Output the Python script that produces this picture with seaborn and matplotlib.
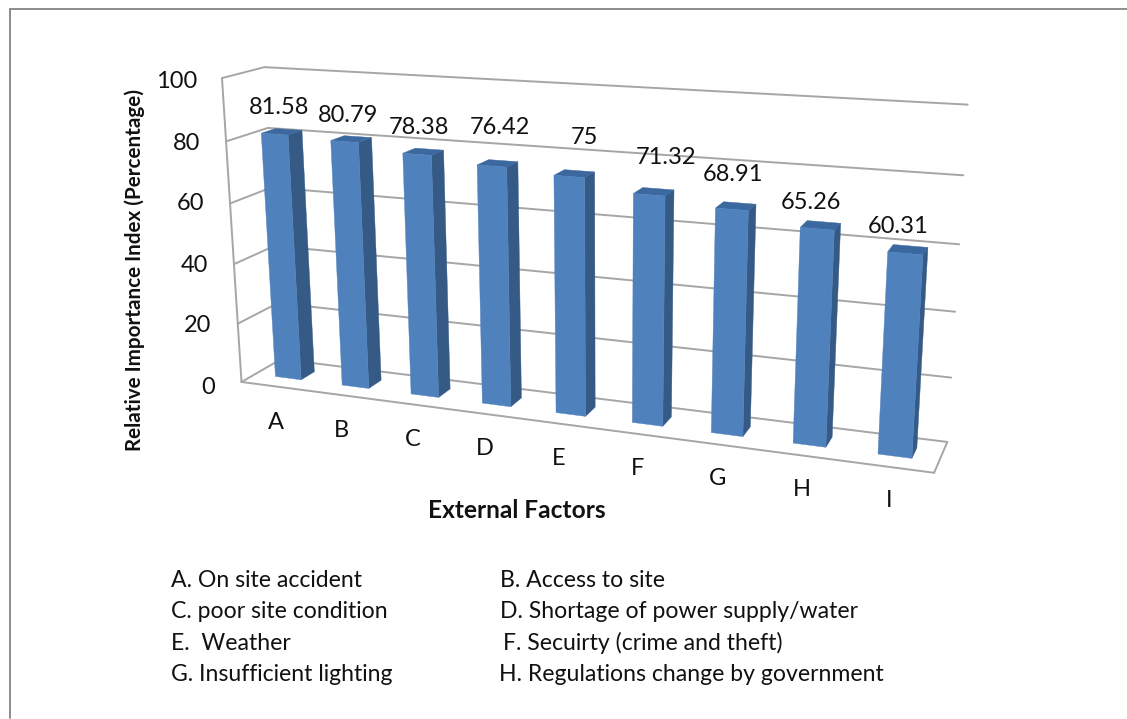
import numpy as np
import pandas as pd
import matplotlib
matplotlib.use("Agg")
import matplotlib.pyplot as plt
from matplotlib.lines import Line2D
from matplotlib.patches import Polygon
from matplotlib.transforms import Transform, IdentityTransform
import seaborn as sns

# ---- data ----
factors = ["A", "B", "C", "D", "E", "F", "G", "H", "I"]
rii_values = [81.58, 80.79, 78.38, 76.42, 75, 71.32, 68.91, 65.26, 60.31]
y_ticks = [0, 20, 40, 60, 80, 100]
key_left = ["A. On site accident", "C. poor site condition", "E.  Weather", "G. Insufficient lighting"]
key_right = ["B. Access to site", "D. Shortage of power supply/water", "F. Secuirty (crime and theft)",
             "H. Regulations change by government"]

W, H = 1127, 719
FONT = "Lato"
BAR_W = 0.39
Z_FRONT, Z_BACK = -1.0, 1.9
X_LO, X_HI = -0.5, 8.5

sns.set_theme(style="white")
plt.rcParams["font.family"] = [FONT, "DejaVu Sans"]

# ---- projective camera calibrated from the picture: (x, y, depth) -> image pixels ----
calib = [
    (0, 0, 0, 286, 379), (0, 81.58, 0, 274.5, 134), (8, 0, 0, 894.5, 457), (8, 60.31, 0, 905.5, 253),
    (4, 0, 0, 571, 416), (4, 75, 0, 569, 177),
    (BAR_W / 2, 0, 1, 315, 370), (BAR_W / 2, 81.58, 1, 303, 132),
    (8 + BAR_W / 2, 0, 1, 918, 447), (8 + BAR_W / 2, 60.31, 1, 927, 248),
    (X_LO, 0, Z_FRONT, 241.7, 381.7), (X_LO, 100, Z_FRONT, 223, 77),
    (X_LO, 0, Z_BACK, 282, 359), (X_LO, 100, Z_BACK, 263, 67),
    (X_HI, 0, Z_BACK, 947, 442), (X_HI, 100, Z_BACK, 968, 104),
    (X_HI, 0, Z_FRONT, 934, 472),
]
rows = []
for x, y, z, u, v in calib:
    s = np.array([x, y, z, 1.0])
    rows.append(np.r_[s, 0 * s, -u * s])
    rows.append(np.r_[0 * s, s, -v * s])
CAM = np.linalg.svd(np.array(rows, float))[2][-1].reshape(3, 4)


class Perspective(Transform):
    """Maps (x, value) at a fixed depth to figure pixels."""
    input_dims = output_dims = 2
    is_separable = False
    has_inverse = False

    def __init__(self, plane_depth):
        super().__init__()
        self.plane_depth = plane_depth

    def transform_non_affine(self, values):
        values = np.asarray(values, float)
        s = np.c_[values, np.full(len(values), self.plane_depth), np.ones(len(values))]
        q = s @ CAM.T
        return np.c_[q[:, 0] / q[:, 2], H - q[:, 1] / q[:, 2]]

    def transform_path_non_affine(self, path):
        return type(path)(self.transform_non_affine(path.vertices), path.codes)


front = Perspective(0.0)
back = Perspective(1.0)
floor_front = Perspective(Z_FRONT)
wall = Perspective(Z_BACK)
pixels = IdentityTransform()

df = pd.DataFrame({"factor": factors, "rii": rii_values})

fig = plt.figure(figsize=(W / 100, H / 100), dpi=100, facecolor="white")
ax = fig.add_axes([223 / W, 1 - 385 / H, (968 - 223) / W, (385 - 80) / H])
ax.patch.set_alpha(0)
BAR = "#4F81BD"
sns.barplot(data=df, x="factor", y="rii", color=BAR, saturation=1, width=BAR_W, ax=ax, zorder=5,
            edgecolor=BAR, linewidth=0.3)
ax.set_xlim(X_LO, X_HI)
ax.set_ylim(0, 100)
sns.despine(ax=ax, left=True, bottom=True)
ax.grid(False)

# ---- box: side wall, back wall and floor ----
GRID = "#A6A6A6"
line_kw = dict(color=GRID, lw=1.4, zorder=1, clip_on=False)


def depth_line(x, yt):
    a = floor_front.transform_non_affine([[x, yt]])[0]
    b = wall.transform_non_affine([[x, yt]])[0]
    ax.add_line(Line2D([a[0], b[0]], [a[1], b[1]], transform=pixels, **line_kw))


for yt in y_ticks:
    ax.add_line(Line2D([X_LO, X_HI], [yt, yt], transform=wall, **line_kw))
    depth_line(X_LO, yt)
ax.add_line(Line2D([X_LO, X_HI], [0, 0], transform=floor_front, **line_kw))
depth_line(X_HI, 0)
ax.add_line(Line2D([X_LO, X_LO], [0, 100], transform=floor_front, **line_kw))

# ---- bars: seaborn draws the fronts, depth faces follow from the same heights ----
SIDE = "#355A86"
TOP = "#3B689E"
for rect in ax.containers[0]:
    rect.set_transform(front)
    rect.set_clip_on(False)
    x0, x1 = rect.get_x(), rect.get_x() + rect.get_width()
    v = rect.get_height()
    f = front.transform_non_affine([[x1, 0], [x1, v], [x0, v]])
    k = back.transform_non_affine([[x1, 0], [x1, v], [x0, v]])
    ax.add_patch(Polygon([f[0], f[1], k[1], k[0]], closed=True, transform=pixels, fc=SIDE, ec=SIDE,
                         lw=0.3, zorder=4, clip_on=False))
    ax.add_patch(Polygon([f[2], f[1], k[1], k[2]], closed=True, transform=pixels, fc=TOP, ec=TOP,
                         lw=0.3, zorder=4, clip_on=False))

# ---- text ----
VAL_SIZE = 17
TXT = "#111111"
val_dx = [4.5, 3.5, 2, 8, 15, 17, 1, -6, -7.5]
val_dy = [26.5, 25.5, 26.5, 38.5, 38.5, 37, 34.5, 26, 27]
for i, v in enumerate(rii_values):
    ax.annotate(f"{v:g}", xy=(i, v), xycoords=front, xytext=(val_dx[i], val_dy[i]), textcoords="offset pixels",
                ha="center", va="center", fontsize=VAL_SIZE, color=TXT, zorder=6, annotation_clip=False)

cat_dx = [-12, -14, -12, -12, -12, -9.5, -9, -8, -5.5]
ax.set_xticks(range(len(factors)))
ax.set_xticklabels([])
ax.set_xlabel("")
ax.tick_params(axis="both", length=0)
for i, name in enumerate(factors):
    ax.annotate(name, xy=(i, 0), xycoords=front, xytext=(cat_dx[i], -44), textcoords="offset pixels",
                ha="center", va="center", fontsize=VAL_SIZE, color=TXT, annotation_clip=False)

ax.set_yticks(y_ticks)
ax.set_yticklabels([str(t) for t in y_ticks], fontsize=VAL_SIZE, color=TXT)
tick_gaps = [8, 12, 15, 19, 23, 26]
for tick, gap in zip(ax.yaxis.get_major_ticks(), tick_gaps):
    tick.set_pad(gap * 0.72)

ax.set_ylabel("Relative Importance Index (Percentage)", fontsize=14.9, fontweight="bold", color=TXT,
              va="center")
ax.yaxis.set_label_coords((135 - 223) / (968 - 223), (385 - 270) / (385 - 80))
fig.text(517 / W, 1 - 510 / H, "External Factors", ha="center", va="center", fontsize=17.6,
         fontweight="bold", color=TXT)

key_rows = [587, 618.5, 650, 681]
key_size = 16.6
for y, s in zip(key_rows, key_left):
    fig.text(171 / W, 1 - y / H, s, ha="left", va="baseline", fontsize=key_size, color=TXT)
for y, s, x in zip(key_rows, key_right, [500, 500, 503, 499]):
    fig.text(x / W, 1 - y / H, s, ha="left", va="baseline", fontsize=key_size, color=TXT)

# ---- picture frame ----
frame = "#8C8C8C"
fig.add_artist(Line2D([9.5 / W, 9.5 / W], [1 - 8.5 / H, 1 - 718 / H], transform=fig.transFigure, color=frame, lw=1.4))
fig.add_artist(Line2D([9.5 / W, 1], [1 - 8.5 / H, 1 - 8.5 / H], transform=fig.transFigure, color=frame, lw=1.4))

fig.savefig("out.png", dpi=100)
